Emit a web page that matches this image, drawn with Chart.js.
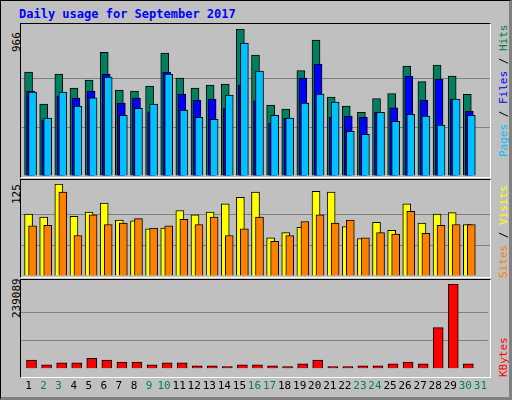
<!DOCTYPE html>
<html>
<head>
<meta charset="utf-8">
<script src="https://cdn.jsdelivr.net/npm/chart.js@4/dist/chart.umd.min.js"></script>
<style>
  body { margin: 0; background: #c0c0c0; overflow: hidden; }
  #frame { position: absolute; left: 0; top: 0; width: 508px; height: 396px; background: #c0c0c0;
           border: 1px solid #000; border-right: 3px solid #808080; border-bottom: 3px solid #808080; }
  .box { position: absolute; left: 20px; width: 469px; border: 1px solid #000; border-right-color: #fff; border-bottom-color: #fff; }
  canvas { position: absolute; }
  .lbl { position: absolute; font: 11px "DejaVu Sans Mono", monospace; white-space: nowrap;
         transform-origin: left top; transform: rotate(-90deg); }
  #title { position: absolute; left: 19px; top: 7px; font: bold 12px "DejaVu Sans Mono", monospace; color: #0000ff; }
</style>
</head>
<body>
<div id="frame"></div>
<div id="title">Daily usage for September 2017</div>
<div class="box" style="top:23px;height:153px"></div>
<div class="box" style="top:179px;height:97px"></div>
<div class="box" style="top:279px;height:97px"></div>
<div class="lbl" style="left:10px;top:52px">966</div>
<div class="lbl" style="left:10px;top:204px">125</div>
<div class="lbl" style="left:10px;top:318px">239089</div>
<div class="lbl" style="left:497px;top:157px"><span style="color:#00c0ff">Pages</span> / <span style="color:#0000ff">Files</span> / <span style="color:#008040">Hits</span></div>
<div class="lbl" style="left:497px;top:278px"><span style="color:#ff8000">Sites</span> / <span style="color:#ffff00">Visits</span></div>
<div class="lbl" style="left:497px;top:377px;color:#ff0000">KBytes</div>
<canvas id="c1" style="left:21px;top:24px" width="469" height="152"></canvas>
<canvas id="c2" style="left:21px;top:180px" width="469" height="96"></canvas>
<canvas id="c3" style="left:21px;top:280px" width="469" height="116"></canvas>
<script>
const days = Array.from({ length: 31 }, (_, i) => String(i + 1));
const weekendDays = ['2', '3', '9', '10', '16', '17', '23', '24', '30', '31'];

const hits = [683, 472, 670, 578, 630, 813, 565, 558, 591, 808, 643, 578, 597, 604, 966, 795, 466, 439, 692, 893, 518, 459, 419, 509, 542, 722, 620, 729, 656, 537, 0];
const files = [558, 369, 523, 512, 558, 670, 479, 512, 422, 683, 538, 499, 505, 447, 599, 494, 347, 380, 643, 735, 386, 393, 386, 419, 448, 657, 499, 637, 505, 426, 0];
const pages = [551, 380, 551, 459, 514, 650, 399, 445, 472, 670, 433, 386, 373, 531, 874, 689, 399, 380, 479, 538, 485, 294, 274, 419, 360, 406, 393, 334, 505, 399, 0];
const visits = [84, 80, 125, 81, 87, 99, 76, 75, 64, 65, 89, 83, 87, 98, 107, 114, 52, 59, 66, 115, 114, 67, 51, 73, 62, 98, 72, 84, 86, 70, 0];
const sites = [68, 69, 114, 55, 83, 70, 72, 78, 65, 68, 77, 70, 80, 55, 64, 80, 47, 55, 74, 83, 72, 76, 52, 59, 57, 88, 58, 69, 70, 70, 0];
const kbytes = [24400, 11300, 16600, 16600, 29700, 24400, 19200, 19200, 11300, 16600, 16600, 8700, 8700, 6100, 11300, 11300, 8700, 6100, 14000, 24400, 6100, 6100, 8700, 8700, 14000, 19200, 14000, 116000, 239089, 14000, 0];

// shifts each dataset sideways so the bars overlap like webalizer's
const shiftPlugin = {
  id: 'shift',
  beforeDatasetDraw(chart, args) {
    const dx = chart.data.datasets[args.index].shift || 0;
    chart.ctx.save();
    chart.ctx.translate(dx, 0);
  },
  afterDatasetDraw(chart) { chart.ctx.restore(); }
};

function bar(label, data, color, shift, width, order) {
  return { label, data, backgroundColor: color, borderColor: '#000', borderWidth: 1,
           barThickness: width, grouped: false, shift, order };
}

function makeChart(id, datasets, max, topPad, showDays) {
  new Chart(document.getElementById(id), {
    type: 'bar',
    data: { labels: days, datasets },
    plugins: [shiftPlugin],
    options: {
      responsive: false, animation: false,
      layout: { padding: { top: topPad, left: 0, right: 0, bottom: 0 } },
      plugins: { legend: { display: false }, tooltip: { enabled: false } },
      scales: {
        x: {
          display: showDays,
          grid: { display: false }, border: { display: false },
          ticks: {
            padding: 3, autoSkip: false, maxRotation: 0,
            font: { family: 'DejaVu Sans Mono', size: 11 },
            color: ctx => weekendDays.includes(days[ctx.index]) ? '#008060' : '#000'
          }
        },
        y: {
          min: 0, max, ticks: { display: false, stepSize: max / 3 },
          grid: { color: ctx => ctx.tick.value > 0 && ctx.tick.value < max ? '#808080' : 'rgba(0,0,0,0)', drawTicks: false },
          border: { display: false }
        }
      }
    }
  });
}

makeChart('c1', [
  bar('Hits', hits, '#008060', 0, 8, 3),
  bar('Files', files, '#0000ff', 2, 8, 2),
  bar('Pages', pages, '#00c0ff', 4, 8, 1)
], 966, 5, false);

makeChart('c2', [
  bar('Visits', visits, '#ffff00', 0, 8, 2),
  bar('Sites', sites, '#ff8000', 4, 8, 1)
], 125, 4, false);

makeChart('c3', [
  bar('KBytes', kbytes, '#ff0000', 3, 10, 1)
], 239089, 4, true);
</script>
</body>
</html>
